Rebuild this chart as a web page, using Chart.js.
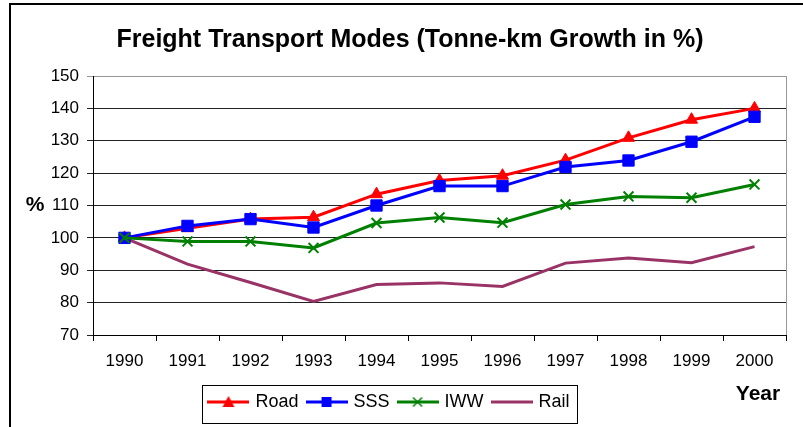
<!DOCTYPE html>
<html>
<head>
<meta charset="utf-8">
<script src="https://cdn.jsdelivr.net/npm/chart.js@4/dist/chart.umd.min.js"></script>
<style>
  body { margin: 0; background: #fff; }
  #wrap { width: 803px; height: 427px; }
</style>
</head>
<body>
<div id="wrap"><canvas id="fretes" width="803" height="427"></canvas></div>
<script>
/* DADOS DO GRAFICO */

const anos = ['1990', '1991', '1992', '1993', '1994', '1995', '1996', '1997', '1998', '1999', '2000'];

const road = [100, 103, 105.8, 106.4, 113.5, 117.7, 119.2, 124, 130.9, 136.5, 140];
const sss  = [100, 103.7, 105.8, 103.2, 110, 116, 116, 121.9, 123.9, 129.7, 137.4];
const iww  = [100, 98.9, 98.9, 96.9, 104.6, 106.3, 104.7, 110.3, 112.8, 112.4, 116.5];
const rail = [100, 91.9, 86.2, 80.4, 85.6, 86.1, 85, 92.2, 93.8, 92.3, 97.3];

const yMin = 70;
const yMax = 150;
const yPasso = 10;

const fonte = "'Liberation Sans', Arial, sans-serif";

/* amostra da legenda: linha com o marcador no meio */
function amostra(cor, marcador) {
  const c = document.createElement('canvas');
  c.width = 42;
  c.height = 16;
  const ctx = c.getContext('2d');
  ctx.strokeStyle = cor;
  ctx.fillStyle = cor;
  ctx.lineWidth = 3;
  ctx.beginPath();
  ctx.moveTo(0, 8);
  ctx.lineTo(42, 8);
  ctx.stroke();
  ctx.beginPath();
  if (marcador === 'triangle') {
    ctx.moveTo(21, 2);
    ctx.lineTo(27, 13);
    ctx.lineTo(15, 13);
    ctx.closePath();
    ctx.fill();
  } else if (marcador === 'rect') {
    ctx.fillRect(16, 3, 10, 10);
  } else if (marcador === 'crossRot') {
    ctx.lineWidth = 1.5;
    ctx.moveTo(16.5, 3.5); ctx.lineTo(25.5, 12.5);
    ctx.moveTo(25.5, 3.5); ctx.lineTo(16.5, 12.5);
    ctx.stroke();
  }
  return c;
}

const datafretes = {
  labels: anos,
  datasets: [{
    label: 'Road',
    data: road,
    borderColor: '#ff0000',
    backgroundColor: '#ff0000',
    borderWidth: 3,
    pointStyle: 'triangle',
    pointRadius: 7,
    pointBorderWidth: 1,
    order: 3
  }, {
    label: 'SSS',
    data: sss,
    borderColor: '#0000ff',
    backgroundColor: '#0000ff',
    borderWidth: 3,
    pointStyle: 'rect',
    pointRadius: 8,
    pointBorderWidth: 1,
    order: 2
  }, {
    label: 'IWW',
    data: iww,
    borderColor: '#008000',
    backgroundColor: '#008000',
    borderWidth: 3,
    pointStyle: 'crossRot',
    pointRadius: 7,
    pointBorderWidth: 2,
    order: 1
  }, {
    label: 'Rail',
    data: rail,
    borderColor: '#993366',
    backgroundColor: '#993366',
    borderWidth: 3,
    pointRadius: 0,
    order: 4
  }]
};

const amostras = [
  amostra('#ff0000', 'triangle'),
  amostra('#0000ff', 'rect'),
  amostra('#008000', 'crossRot'),
  amostra('#993366', null)
];

/* moldura, borda da area do grafico, textos "%" e "Year" */
const extras = {
  id: 'extras',
  afterLayout(chart) {
    // legenda um pouco para a esquerda, como no original
    chart.legend.left -= 20;
    chart.legend.right -= 20;
  },
  beforeDraw(chart) {
    const ctx = chart.ctx;
    ctx.save();
    ctx.fillStyle = '#fff';
    ctx.fillRect(0, 0, chart.width, chart.height);
    ctx.restore();
  },
  afterDraw(chart) {
    const ctx = chart.ctx;
    const a = chart.chartArea;
    ctx.save();
    // borda direita cinza
    ctx.strokeStyle = '#999';
    ctx.lineWidth = 1;
    ctx.beginPath();
    ctx.moveTo(Math.round(a.right) + 0.5, a.top);
    ctx.lineTo(Math.round(a.right) + 0.5, a.bottom);
    ctx.stroke();

    // caixa da legenda
    const hb = chart.legend.legendHitBoxes;
    if (hb.length) {
      const esq = Math.min(...hb.map(h => h.left)) - 8;
      const dir = Math.max(...hb.map(h => h.left + h.width)) + 8;
      const topo = hb[0].top - 8;
      const base = hb[0].top + hb[0].height + 12;
      ctx.strokeStyle = '#000';
      ctx.lineWidth = 1;
      ctx.strokeRect(Math.round(esq) + 0.5, Math.round(topo) + 0.5, Math.round(dir - esq), Math.round(base - topo));
    }

    // moldura externa
    ctx.strokeStyle = '#000';
    ctx.lineWidth = 2;
    ctx.strokeRect(10, 4, 900, 500);

    // textos
    ctx.fillStyle = '#000';
    ctx.font = 'bold 21px ' + fonte;
    ctx.textAlign = 'center';
    ctx.textBaseline = 'middle';
    ctx.fillText('%', 35, chart.scales.y.getPixelForValue(110));
    ctx.fillText('Year', 758, 394);
    ctx.restore();
  }
};

const configfretes = {
  type: 'line',
  data: datafretes,
  options: {
    responsive: false,
    animation: false,
    layout: { padding: { left: 34, right: 17, top: 0, bottom: 6 } },
    elements: { line: { tension: 0 } },
    plugins: {
      title: {
        display: true,
        text: 'Freight Transport Modes (Tonne-km Growth in %)',
        color: '#000',
        font: { family: fonte, size: 25, weight: 'bold' },
        padding: { top: 25, bottom: 21 }
      },
      legend: {
        position: 'bottom',
        labels: {
          color: '#000',
          font: { family: fonte, size: 18 },
          usePointStyle: true,
          pointStyleWidth: 36,
          padding: 10,
          generateLabels: (chart) => chart.data.datasets.map((ds, i) => ({
            text: ds.label,
            datasetIndex: i,
            pointStyle: amostras[i],
            fillStyle: ds.borderColor,
            strokeStyle: ds.borderColor,
            lineWidth: 0,
            hidden: !chart.isDatasetVisible(i),
            fontColor: '#000'
          }))
        }
      },
      tooltip: { enabled: false }
    },
    scales: {
      x: {
        offset: true,
        afterFit: (scale) => { scale.height = 48; },
        grid: {
          offset: true,
          drawOnChartArea: false,
          drawTicks: true,
          tickLength: 6,
          color: '#000'
        },
        border: { color: '#000', width: 1 },
        ticks: {
          color: '#000',
          font: { family: fonte, size: 17 },
          padding: 10,
          maxRotation: 0
        }
      },
      y: {
        min: yMin,
        max: yMax,
        afterFit: (scale) => { scale.width = 59; },
        grid: {
          color: (c) => (c.tick && c.tick.value === yMax ? '#999' : '#222'),
          tickLength: 6
        },
        border: { color: '#000', width: 1 },
        ticks: {
          stepSize: yPasso,
          color: '#000',
          font: { family: fonte, size: 17 },
          padding: 8
        }
      }
    }
  },
  plugins: [extras]
};

const chartfretes = new Chart(
  document.getElementById('fretes'),
  configfretes
);
</script>
</body>
</html>
